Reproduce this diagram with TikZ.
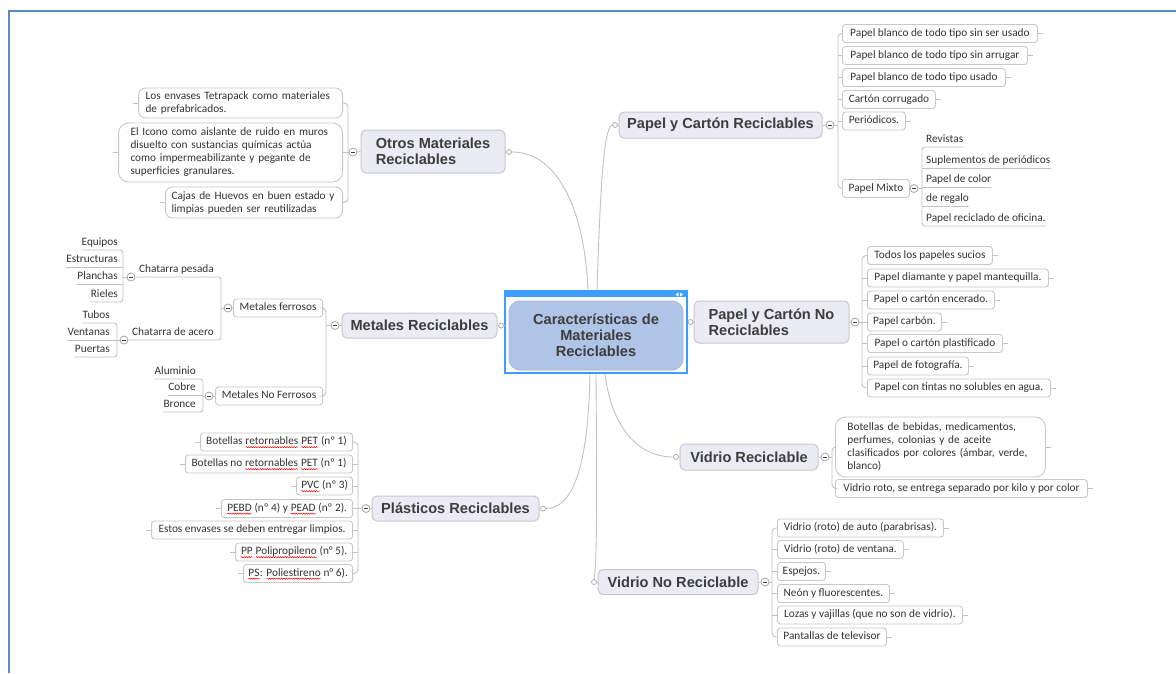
\documentclass[tikz,border=0pt]{standalone}
\usepackage{fontspec}
\setmainfont{Carlito}
\newfontfamily\headfont{Liberation Sans}
\usetikzlibrary{calc,decorations.pathmorphing}
\definecolor{framecol}{HTML}{5B87C5}
\definecolor{linecol}{HTML}{C2C2C2}
\definecolor{topicfill}{HTML}{EAEBF3}
\definecolor{topicdraw}{HTML}{C6C7D0}
\definecolor{leafdraw}{HTML}{C8C8C8}
\definecolor{txt}{HTML}{333333}
\definecolor{headtxt}{HTML}{3D3D3D}
\definecolor{centerfill}{HTML}{AFC4E7}
\definecolor{centerdraw}{HTML}{A3B8DD}
\definecolor{selcol}{HTML}{3C9CFF}
\tikzset{
  topic/.style={draw=topicdraw, fill=topicfill, rounded corners=5pt, line width=1pt,
    font=\headfont\bfseries\fontsize{14.6}{16}\selectfont, text=headtxt, align=left, inner sep=0pt},
  rootbox/.style={draw=centerdraw, fill=centerfill, rounded corners=11pt, line width=0.8pt,
    font=\headfont\bfseries\fontsize{14.6}{16}\selectfont, text=headtxt, align=center, inner sep=0pt,
    minimum width=174pt, minimum height=69pt},
  leaf/.style={draw=leafdraw, fill=white, rounded corners=3pt, line width=0.9pt,
    font=\fontsize{11.3}{13}\selectfont, text=txt, inner sep=0pt},
  leaf1/.style={leaf, minimum height=18pt, text height=8pt, text depth=2.5pt},
  leafm/.style={leaf, align=left, rounded corners=8pt},
  uline/.style={font=\fontsize{11.3}{13}\selectfont, text=txt, inner xsep=0pt, inner ysep=2.2pt,
    text height=8pt, text depth=2.5pt},
  conn/.style={draw=linecol, line width=0.9pt},
  collapse/.style={circle, draw=black!35, fill=white, line width=0.8pt, minimum size=8pt, inner sep=0pt,
    path picture={\draw[black!75, line width=0.9pt] ([xshift=-2pt]path picture bounding box.center) -- ([xshift=2pt]path picture bounding box.center);}},
  jdot/.style={circle, draw=black!35, fill=white, line width=0.7pt, minimum size=5pt, inner sep=0pt},
}
\newcommand\sperr[1]{\tikz[baseline=(w.base)]{\node[inner sep=0pt, outer sep=0pt, minimum width=0pt, minimum height=0pt, anchor=base, draw=none, fill=none, rectangle, sharp corners, text=txt] (w) {#1};\draw[red, line width=0.5pt, sharp corners, decorate, decoration={snake, amplitude=0.6pt, segment length=2.4pt}] ([yshift=-2.4pt]w.base west) -- ([yshift=-2.4pt]w.base east);}}
\newcommand\leafR[5]{\node[leaf1, minimum width=#3pt, anchor=west] (#1) at (#2,#4) {#5}; \draw[conn] (#1.east) -- ++(5,0);}
\newcommand\leafL[5]{\node[leaf1, minimum width=#3pt, anchor=east] (#1) at (#2,#4) {#5}; \draw[conn] (#1.west) -- ++(-5,0);}
\newcommand\ulR[4]{\node[uline, anchor=south west] (#1) at (#2,#3) {#4};}
\newcommand\ulL[4]{\node[uline, anchor=south east] (#1) at (#2,#3) {#4};}
\begin{document}
\begin{tikzpicture}[x=1pt,y=-1pt]
\useasboundingbox (0,0) rectangle (1176,673);
\fill[white] (0,0) rectangle (1176,673);
\draw[framecol, line width=2.2pt] (9,673) -- (9,11) -- (1176,11);

% ---------- centre ----------
\node[draw=selcol, line width=2pt, minimum width=182pt, minimum height=82pt, inner sep=0pt] (sel) at (596,332) {};
\fill[selcol] (sel.north west) rectangle ($(sel.north east)+(0,7)$);
\fill[white] (675.5,294.5) -- (678.5,292.5) -- (678.5,296.5) -- cycle;
\fill[white] (680,292.5) -- (683,294.5) -- (680,296.5) -- cycle;
\node[rootbox] (root) at (596,335.5) {Características de\\Materiales\\Reciclables};

% ---------- main topics ----------
\node[topic, minimum width=203pt, minimum height=26pt] (ptr) at (720.5,125) {Papel y Cartón Reciclables};
\node[topic, minimum width=155pt, minimum height=42pt] (pnr) at (771.5,322) {Papel y Cartón No\\Reciclables};
\node[topic, minimum width=138pt, minimum height=26pt] (vr) at (749,457) {Vidrio Reciclable};
\node[topic, minimum width=160pt, minimum height=25pt] (vnr) at (678,582) {Vidrio No Reciclable};
\node[topic, minimum width=144pt, minimum height=43pt] (ot) at (433,151.5) {Otros Materiales\\Reciclables};
\node[topic, minimum width=155pt, minimum height=25pt] (met) at (419.5,325.5) {Metales Reciclables};
\node[topic, minimum width=167pt, minimum height=25pt] (pla) at (455.5,508.5) {Plásticos Reciclables};

% attachment dots
\node[jdot] (ptrD) at (615,125) {};
\node[jdot] (pnrD) at (690.5,322) {};
\node[jdot] (vrD) at (676,457) {};
\node[jdot] (vnrD) at (594,582) {};
\node[jdot] (otD) at (509,152) {};
\node[jdot] (metD) at (501,325.5) {};
\node[jdot] (plaD) at (543,508.5) {};

% centre connectors
\draw[conn] ($(sel.north)+(1,0)$) .. controls (600,200) and (603,127) .. (ptrD.west);
\draw[conn] ($(sel.north)+(-8,0)$) .. controls (585,215) and (560,152) .. (otD.east);
\draw[conn] (sel.east |- pnrD.west) -- (pnrD.west);
\draw[conn] (sel.west |- metD.east) -- (metD.east);
\draw[conn] ($(sel.south)+(9,0)$) .. controls (612,430) and (640,457) .. (vrD.west);
\draw[conn] ($(sel.south)+(0,0)$) .. controls (597,500) and (597,565) .. (vnrD.north);
\draw[conn] ($(sel.south)+(-6,0)$) .. controls (588,470) and (572,508.5) .. (plaD.east);
\draw[conn] (ptrD.east) -- (ptr.west);
\draw[conn] (pnrD.east) -- (pnr.west);
\draw[conn] (vrD.east) -- (vr.west);
\draw[conn] (vnrD.east) -- (vnr.west);
\draw[conn] (otD.west) -- (ot.east);
\draw[conn] (metD.west) -- (met.east);
\draw[conn] (plaD.west) -- (pla.east);

% ---------- Papel y Cartón Reciclables ----------
\node[collapse] (ptrC) at (830,125) {};
\coordinate (ptrS) at (838,125);
\draw[conn] (ptr.east) -- (ptrC.west);
\draw[conn] (ptrC.east) -- (ptrS);
\leafR{a1}{842}{195}{33.5}{Papel blanco de todo tipo sin ser usado}
\leafR{a2}{842}{185}{55.5}{Papel blanco de todo tipo sin arrugar}
\leafR{a3}{842}{163}{77.5}{Papel blanco de todo tipo usado}
\leafR{a4}{842}{93}{99.5}{Cartón corrugado}
\leafR{a5}{842}{63}{121}{Periódicos.}
\node[leaf1, minimum width=67pt, anchor=west] (a6) at (842,188.5) {Papel Mixto};
\draw[conn, rounded corners=4pt] (a1.west) -| (ptrS) |- (a6.west);
\foreach \n in {a2,a3,a4,a5} \draw[conn] (\n.west) -- (\n.west -| ptrS);

\node[collapse] (mxC) at (914,188.5) {};
\coordinate (mxS) at (922,188.5);
\draw[conn] (a6.east) -- (mxC.west);
\draw[conn] (mxC.east) -- (mxS);
\ulR{m1}{926}{147}{Revistas}
\ulR{m2}{926}{168}{Suplementos de periódicos}
\ulR{m3}{926}{187.5}{Papel de color}
\ulR{m4}{926}{206.5}{de regalo}
\ulR{m5}{926}{226}{Papel reciclado de oficina.}
\draw[conn, rounded corners=3pt] (m1.south east) -| (mxS) |- (m5.south east);
\foreach \n in {m2,m3,m4} \draw[conn] (\n.south east) -- (\n.south east -| mxS);

% ---------- Papel y Cartón No Reciclables ----------
\node[collapse] (pnrC) at (855,322) {};
\coordinate (pnrS) at (862,322);
\draw[conn] (pnr.east) -- (pnrC.west);
\draw[conn] (pnrC.east) -- (pnrS);
\leafR{b1}{867}{125}{255.5}{Todos los papeles sucios}
\leafR{b2}{867}{181}{278}{Papel diamante y papel mantequilla.}
\leafR{b3}{867}{127}{300}{Papel o cartón encerado.}
\leafR{b4}{867}{74}{322}{Papel carbón.}
\leafR{b5}{867}{135}{343.5}{Papel o cartón plastificado}
\leafR{b6}{867}{101}{366}{Papel de fotografía.}
\leafR{b7}{867}{183}{388}{Papel con tintas no solubles en agua.}
\draw[conn, rounded corners=4pt] (b1.west) -| (pnrS) |- (b7.west);
\foreach \n in {b2,b3,b4,b5,b6} \draw[conn] (\n.west) -- (\n.west -| pnrS);

% ---------- Vidrio Reciclable ----------
\node[collapse] (vrC) at (825,457) {};
\coordinate (vrS) at (832,457);
\draw[conn] (vr.east) -- (vrC.west);
\draw[conn] (vrC.east) -- (vrS);
\node[leafm, text width=186pt, inner xsep=12pt, minimum height=60pt, rounded corners=10pt, anchor=west] (c1) at (835,447)
  {Botellas de bebidas, medicamentos,\\perfumes, colonias y de aceite\\clasificados por colores (ámbar, verde,\\blanco)};
\draw[conn] (c1.east) -- ++(5,0);
\leafR{c2}{835}{252}{488.5}{Vidrio roto, se entrega separado por kilo y por color}
\draw[conn, rounded corners=4pt] (c1.west) -| (vrS) |- (c2.west);

% ---------- Vidrio No Reciclable ----------
\node[collapse] (vnrC) at (765,582) {};
\coordinate (vnrS) at (772,582);
\draw[conn] (vnr.east) -- (vnrC.west);
\draw[conn] (vnrC.east) -- (vnrS);
\leafR{v1}{777}{166}{528}{Vidrio (roto) de auto (parabrisas).}
\leafR{v2}{777}{126}{549.5}{Vidrio (roto) de ventana.}
\leafR{v3}{777}{48}{571.5}{Espejos.}
\leafR{v4}{777}{112}{593.5}{Neón y fluorescentes.}
\leafR{v5}{777}{185}{615}{Lozas y vajillas (que no son de vidrio).}
\leafR{v6}{777}{109}{637}{Pantallas de televisor}
\draw[conn, rounded corners=4pt] (v1.west) -| (vnrS) |- (v6.west);
\foreach \n in {v2,v3,v4,v5} \draw[conn] (\n.west) -- (\n.west -| vnrS);

% ---------- Otros Materiales Reciclables ----------
\node[collapse] (otC) at (353,152) {};
\coordinate (otS) at (348,152);
\draw[conn] (ot.west) -- (otC.east);
\draw[conn] (otC.west) -- (otS);
\node[leafm, text width=190pt, inner xsep=7pt, minimum height=30pt, rounded corners=7pt, anchor=east] (d1) at (343,103)
  {Los envases Tetrapack como materiales\\de prefabricados.};
\node[leafm, text width=200pt, inner xsep=12pt, minimum height=59pt, rounded corners=10pt, anchor=east] (d2) at (343,152.5)
  {El Icono como aislante de ruido en muros\\disuelto con sustancias químicas actúa\\como impermeabilizante y pegante de\\superficies granulares.};
\node[leafm, text width=165pt, inner xsep=6pt, minimum height=31pt, rounded corners=7pt, anchor=east] (d3) at (343,202.5)
  {Cajas de Huevos en buen estado y\\limpias pueden ser reutilizadas};
\foreach \n in {d1,d2,d3} \draw[conn] (\n.west) -- ++(-5,0);
\draw[conn, rounded corners=4pt] (d1.east) -| (otS) |- (d3.east);
\draw[conn] (d2.east) -- (d2.east -| otS);

% ---------- Metales Reciclables ----------
\node[collapse] (metC) at (335,325.5) {};
\coordinate (metS) at (326,325.5);
\draw[conn] (met.west) -- (metC.east);
\draw[conn] (metC.west) -- (metS);
\node[leaf1, minimum width=89pt, anchor=east] (mf) at (323,308) {Metales ferrosos};
\node[leaf1, minimum width=107pt, anchor=east] (mn) at (323,396) {Metales No Ferrosos};
\draw[conn, rounded corners=4pt] (mf.east) -| (metS) |- (mn.east);

\node[collapse] (mfC) at (228,308) {};
\coordinate (mfS) at (221,308);
\draw[conn] (mf.west) -- (mfC.east);
\draw[conn] (mfC.west) -- (mfS);
\ulL{cp}{214}{277}{Chatarra pesada}
\ulL{ca}{214}{340}{Chatarra de acero}
\node[collapse] (cpC) at (131,277) {};
\node[collapse] (caC) at (124,340) {};
\draw[conn, rounded corners=3pt] (cpC.east) -| (mfS) |- (caC.east);

\coordinate (cpS) at (123,277);
\draw[conn] (cpC.west) -- (cpS);
\ulL{e1}{118}{250}{Equipos}
\ulL{e2}{118}{267}{Estructuras}
\ulL{e3}{118}{284.5}{Planchas}
\ulL{e4}{118}{302}{Rieles}
\draw[conn, rounded corners=3pt] (e1.south west) -| (cpS) |- (e4.south west);
\foreach \n in {e2,e3} \draw[conn] (\n.south west) -- (\n.south west -| cpS);

\coordinate (caS) at (117,340);
\draw[conn] (caC.west) -- (caS);
\ulL{f1}{110}{323}{Tubos}
\ulL{f2}{110}{340}{Ventanas}
\ulL{f3}{110}{357}{Puertas}
\draw[conn, rounded corners=3pt] (f1.south west) -| (caS) |- (f3.south west);
\draw[conn] (f2.south west) -- (caS);

\node[collapse] (mnC) at (209,396) {};
\coordinate (mnS) at (203,396);
\draw[conn] (mn.west) -- (mnC.east);
\draw[conn] (mnC.west) -- (mnS);
\ulL{g1}{196}{379}{Aluminio}
\ulL{g2}{196}{395.5}{Cobre}
\ulL{g3}{196}{412}{Bronce}
\draw[conn, rounded corners=3pt] (g1.south west) -| (mnS) |- (g3.south west);
\draw[conn] (g2.south west) -- (g2.south west -| mnS);

% ---------- Plásticos Reciclables ----------
\node[collapse] (plaC) at (366,508.5) {};
\coordinate (plaS) at (358,508.5);
\draw[conn] (pla.west) -- (plaC.east);
\draw[conn] (plaC.west) -- (plaS);
\leafL{p1}{353}{152}{442}{Botellas \sperr{retornables} \sperr{PET} (nº 1)}
\leafL{p2}{353}{167}{464}{Botellas no \sperr{retornables} \sperr{PET} (nº 1)}
\leafL{p3}{353}{56}{486}{\sperr{PVC} (nº 3)}
\leafL{p4}{353}{131}{508.5}{\sperr{PEBD} (nº 4) y \sperr{PEAD} (nº 2).}
\leafL{p5}{353}{201}{530}{Estos envases se deben entregar limpios.}
\leafL{p6}{353}{117}{552}{\sperr{PP} \sperr{Polipropileno} (n° 5).}
\leafL{p7}{353}{109}{573.5}{\sperr{PS}: \sperr{Poliestireno} n° 6).}
\draw[conn, rounded corners=4pt] (p1.east) -| (plaS) |- (p7.east);
\foreach \n in {p2,p3,p4,p5,p6} \draw[conn] (\n.east) -- (\n.east -| plaS);
\end{tikzpicture}
\end{document}
